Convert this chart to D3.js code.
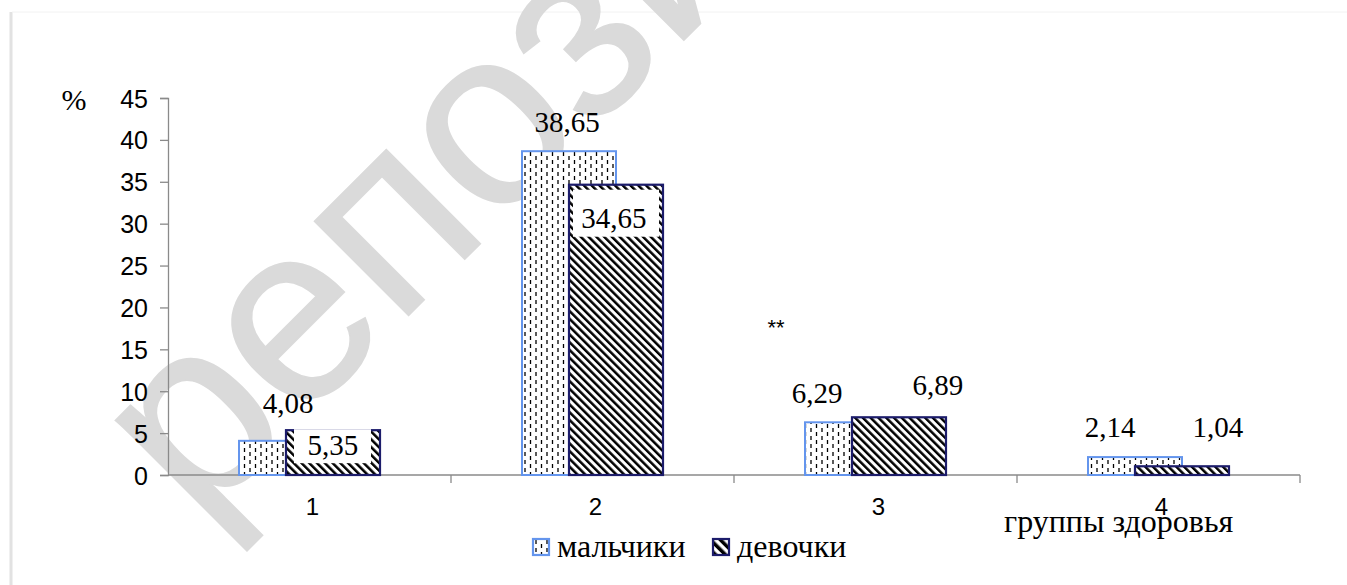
<!DOCTYPE html>
<html>
<head>
<meta charset="utf-8">
<script src="https://cdn.jsdelivr.net/npm/d3@7/dist/d3.min.js"></script>
<style>
  html, body { margin: 0; padding: 0; background: #fff; }
  svg { display: block; }
  .serif { font-family: "Liberation Serif", "Times New Roman", serif; }
  .sans { font-family: "Liberation Sans", Arial, sans-serif; }
</style>
</head>
<body>
<svg id="chart" width="1347" height="585"></svg>
<script>
// ---- data ----
const categories = ["1", "2", "3", "4"];
const seriesNames = ["мальчики", "девочки"];
const boysValues = [4.08, 38.65, 6.29, 2.14];
const girlsValues = [5.35, 34.65, 6.89, 1.04];
const yTickValues = [0, 5, 10, 15, 20, 25, 30, 35, 40, 45];
const yAxisTitle = "%";
const xAxisTitle = "группы здоровья";
const annotationText = "**";
const annotationCategory = "3";
const annotationValue = 18;
const watermarkText = "репозиторий";

// ---- layout / styling ----
const W = 1347, H = 585;
const plot = { left: 168, right: 1300, top: 98, bottom: 475 };
const boysStroke = "#6495ed";
const girlsStroke = "#1c1c6b";
const axisColor = "#8a8a8a";

// label placement relative to bar top centre (styling, not data)
const boysLabelPos = [
  { dx: 2, dy: -28 }, { dx: -2, dy: -19 }, { dx: -35, dy: -19 }, { dx: -25, dy: -20 }
];
const girlsLabelPos = [
  { dx: 0, dy: 25, box: { l: 8, r: 9, t: -1, b: 33 } },
  { dx: -2, dy: 43, box: { l: 4, r: 4, t: 5, b: 52 } },
  { dx: 39, dy: -22 },
  { dx: 36, dy: -29 }
];

const locale = d3.formatLocale({ decimal: ",", thousands: " ", grouping: [3], currency: ["", ""] });
const fmt = locale.format(".2f");

const svg = d3.select("#chart");
svg.append("rect").attr("width", W).attr("height", H).attr("fill", "#fff");

// page border
svg.append("line").attr("x1", 11).attr("x2", 11).attr("y1", 12).attr("y2", H)
  .attr("stroke", "#e2e2e2").attr("stroke-width", 3);
svg.append("line").attr("x1", 12).attr("x2", W).attr("y1", 12).attr("y2", 12)
  .attr("stroke", "#f2f2f2").attr("stroke-width", 1);

// ---- patterns ----
const defs = svg.append("defs");
const pb = defs.append("pattern").attr("id", "boysPat")
  .attr("patternUnits", "userSpaceOnUse").attr("width", 11).attr("height", 8);
pb.append("rect").attr("width", 11).attr("height", 8).attr("fill", "#fff");
pb.append("line").attr("x1", 2.5).attr("x2", 2.5).attr("y1", 0).attr("y2", 4)
  .attr("stroke", "#000").attr("stroke-width", 1.3);
pb.append("line").attr("x1", 8).attr("x2", 8).attr("y1", 4).attr("y2", 8)
  .attr("stroke", "#000").attr("stroke-width", 1.3);

const pg = defs.append("pattern").attr("id", "girlsPat")
  .attr("patternUnits", "userSpaceOnUse").attr("width", 5.5).attr("height", 5.5)
  .attr("patternTransform", "rotate(-45)");
pg.append("rect").attr("width", 5.5).attr("height", 5.5).attr("fill", "#fff");
pg.append("rect").attr("width", 2.5).attr("height", 5.5).attr("fill", "#000");

const legPg = defs.append("pattern").attr("id", "girlsPatLeg")
  .attr("patternUnits", "userSpaceOnUse").attr("width", 7).attr("height", 7)
  .attr("patternTransform", "rotate(-45)");
legPg.append("rect").attr("width", 7).attr("height", 7).attr("fill", "#fff");
legPg.append("rect").attr("width", 3.5).attr("height", 7).attr("fill", "#000");

// ---- scales ----
const y = d3.scaleLinear().domain([0, 45]).range([plot.bottom, plot.top]);
const x0 = d3.scaleBand().domain(categories).range([plot.left, plot.right])
  .paddingInner(0.5018).paddingOuter(0.2509);
const bw = x0.bandwidth() * 2 / 3;
const offset = x0.bandwidth() / 3;

// ---- watermark ----
svg.append("text")
  .attr("class", "sans")
  .attr("transform", "translate(198,526) rotate(-45)")
  .attr("font-size", 252)
  .attr("fill", "#dadada")
  .attr("stroke", "#dadada").attr("stroke-width", 1.5)
  .text(watermarkText);

// ---- axes ----
const yAxis = d3.axisLeft(y).tickValues(yTickValues).tickSize(8).tickPadding(12)
  .tickFormat(d3.format("d"));
const gy = svg.append("g").attr("transform", `translate(${plot.left},0)`).call(yAxis);
gy.attr("font-family", null).attr("font-size", null);
gy.select(".domain").attr("stroke", axisColor).attr("stroke-width", 1.3);
gy.selectAll(".tick line").attr("stroke", axisColor).attr("stroke-width", 1.3);
gy.selectAll(".tick text").attr("class", "sans").attr("font-size", 25).attr("fill", "#000")
  .attr("dy", "0.36em");

// x axis: boundary ticks
const step = x0.step();
const boundaries = categories.map((c, i) => plot.left + step * (i + 1));
const gx = svg.append("g");
gx.append("line").attr("x1", plot.left).attr("x2", plot.right)
  .attr("y1", y(0)).attr("y2", y(0)).attr("stroke", axisColor).attr("stroke-width", 1.3);
gx.selectAll("line.tk").data(boundaries).join("line").attr("class", "tk")
  .attr("x1", d => d).attr("x2", d => d).attr("y1", y(0)).attr("y2", y(0) + 8)
  .attr("stroke", axisColor).attr("stroke-width", 1.3);
gx.selectAll("text.cat").data(categories).join("text").attr("class", "sans")
  .attr("x", d => x0(d) + x0.bandwidth() / 2 + 3)
  .attr("y", y(0) + 40)
  .attr("text-anchor", "middle")
  .attr("font-size", 24).attr("fill", "#000")
  .text(d => d);

// ---- bars ----
const gBars = svg.append("g");
gBars.selectAll("rect.boys").data(boysValues).join("rect").attr("class", "boys")
  .attr("x", (d, i) => x0(categories[i]))
  .attr("y", d => y(d))
  .attr("width", bw)
  .attr("height", d => y(0) - y(d))
  .attr("fill", "url(#boysPat)")
  .attr("stroke", boysStroke).attr("stroke-width", 2);

gBars.selectAll("rect.girls").data(girlsValues).join("rect").attr("class", "girls")
  .attr("x", (d, i) => x0(categories[i]) + offset)
  .attr("y", d => y(d))
  .attr("width", bw)
  .attr("height", d => y(0) - y(d))
  .attr("fill", "url(#girlsPat)")
  .attr("stroke", girlsStroke).attr("stroke-width", 2.2);

// ---- data labels ----
const gLab = svg.append("g");
boysValues.forEach((v, i) => {
  const cx = x0(categories[i]) + bw / 2;
  const p = boysLabelPos[i];
  gLab.append("text").attr("class", "serif").attr("x", cx + p.dx).attr("y", y(v) + p.dy)
    .attr("text-anchor", "middle").attr("font-size", 29)
    .attr("fill", "#000").text(fmt(v));
});
girlsValues.forEach((v, i) => {
  const bx = x0(categories[i]) + offset;
  const cx = bx + bw / 2;
  const p = girlsLabelPos[i];
  if (p.box) {
    gLab.append("rect")
      .attr("x", bx + p.box.l).attr("y", y(v) + p.box.t)
      .attr("width", bw - p.box.l - p.box.r).attr("height", p.box.b - p.box.t)
      .attr("fill", "#fff");
  }
  gLab.append("text").attr("class", "serif").attr("x", cx + p.dx).attr("y", y(v) + p.dy)
    .attr("text-anchor", "middle").attr("font-size", 29)
    .attr("fill", "#000").text(fmt(v));
});

// annotation
svg.append("text").attr("class", "sans")
  .attr("x", x0(annotationCategory) - 29).attr("y", y(annotationValue) + 11)
  .attr("text-anchor", "middle").attr("font-size", 22)
  .attr("fill", "#000").text(annotationText);

// axis titles
svg.append("text").attr("class", "serif").attr("x", 74).attr("y", 110).attr("text-anchor", "middle")
  .attr("font-size", 30).attr("fill", "#000").text(yAxisTitle);
svg.append("text").attr("class", "serif").attr("x", 1004).attr("y", 532)
  .attr("font-size", 32).attr("fill", "#000").text(xAxisTitle);

// ---- legend ----
const legend = svg.append("g");
const legItems = [
  { name: seriesNames[0], fill: "url(#boysPat)", stroke: boysStroke, x: 533 },
  { name: seriesNames[1], fill: "url(#girlsPatLeg)", stroke: girlsStroke, x: 713 }
];
legItems.forEach(it => {
  legend.append("rect").attr("x", it.x).attr("y", 539).attr("width", 16).attr("height", 16)
    .attr("fill", it.fill).attr("stroke", it.stroke).attr("stroke-width", 2.2);
  legend.append("text").attr("class", "serif").attr("x", it.x + 24).attr("y", 557)
    .attr("font-size", 32).attr("fill", "#000").text(it.name);
});
</script>
</body>
</html>
